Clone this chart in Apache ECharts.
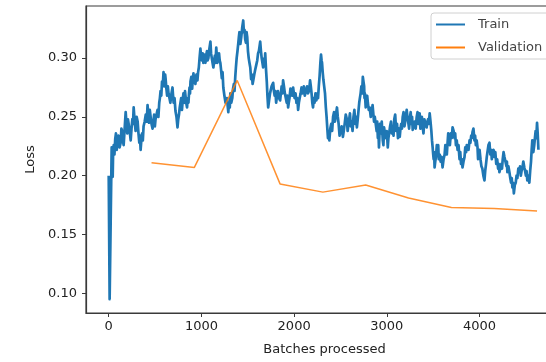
<!DOCTYPE html>
<html>
<head>
<meta charset="utf-8">
<script src="https://cdn.jsdelivr.net/npm/echarts@6/dist/echarts.min.js"></script>
<style>
html,body{margin:0;padding:0;background:#fff;overflow:hidden;width:546px;height:362px;}
#c{width:570px;height:362px;}
</style>
</head>
<body>
<div id="c"></div>
<script>
const xTicks = [0, 1000, 2000, 3000, 4000];
const yTicks = [0.10, 0.15, 0.20, 0.25, 0.30];
const seriesNames = ['Train', 'Validation'];

const trainPoints = [
[0,0.200],[10,0.095],[21,0.160],[32,0.224],[38,0.212],[43,0.199],[48,0.222],[54,0.226],[62,0.218],[70,0.231],[78,0.236],[86,0.222],[95,0.230],[105,0.234],[117,0.224],[129,0.228],[137,0.240],[145,0.238],[153,0.230],[161,0.226],[172,0.240],[183,0.254],[192,0.244],[200,0.236],[207,0.248],[215,0.244],[226,0.238],[237,0.230],[246,0.240],[255,0.248],[262,0.244],[269,0.258],[280,0.246],[290,0.238],[301,0.250],[312,0.246],[321,0.236],[330,0.228],[337,0.234],[344,0.222],[352,0.230],[360,0.236],[368,0.230],[376,0.242],[388,0.246],[400,0.252],[410,0.246],[419,0.260],[427,0.252],[435,0.245],[443,0.256],[452,0.250],[462,0.244],[473,0.240],[482,0.246],[490,0.252],[498,0.242],[505,0.248],[516,0.252],[527,0.256],[536,0.250],[545,0.262],[552,0.266],[559,0.272],[567,0.268],[575,0.280],[583,0.276],[591,0.288],[598,0.282],[605,0.276],[609,0.286],[613,0.283],[622,0.274],[630,0.268],[638,0.276],[645,0.270],[655,0.266],[665,0.262],[677,0.270],[688,0.275],[694,0.268],[700,0.262],[710,0.266],[720,0.255],[731,0.250],[742,0.241],[750,0.248],[758,0.252],[766,0.258],[774,0.262],[782,0.266],[790,0.256],[798,0.264],[806,0.270],[812,0.264],[818,0.262],[823,0.272],[828,0.268],[836,0.262],[845,0.258],[852,0.266],[860,0.262],[866,0.270],[872,0.275],[877,0.270],[882,0.280],[891,0.284],[900,0.274],[907,0.282],[914,0.287],[924,0.280],[935,0.278],[946,0.286],[957,0.281],[964,0.288],[972,0.292],[980,0.300],[989,0.308],[997,0.300],[1005,0.298],[1013,0.304],[1021,0.296],[1028,0.300],[1035,0.303],[1039,0.298],[1043,0.296],[1051,0.302],[1060,0.306],[1067,0.298],[1075,0.300],[1086,0.308],[1097,0.314],[1104,0.304],[1112,0.300],[1120,0.296],[1129,0.292],[1137,0.298],[1145,0.302],[1152,0.296],[1160,0.309],[1166,0.302],[1172,0.296],[1181,0.300],[1190,0.304],[1197,0.298],[1204,0.296],[1212,0.290],[1220,0.283],[1228,0.288],[1236,0.275],[1248,0.268],[1260,0.262],[1275,0.266],[1290,0.254],[1295,0.260],[1300,0.262],[1306,0.258],[1312,0.270],[1322,0.262],[1333,0.266],[1341,0.274],[1350,0.278],[1357,0.272],[1365,0.284],[1372,0.292],[1380,0.300],[1389,0.306],[1398,0.313],[1404,0.318],[1410,0.322],[1420,0.312],[1430,0.318],[1440,0.326],[1451,0.332],[1458,0.322],[1465,0.324],[1472,0.316],[1480,0.313],[1487,0.322],[1494,0.318],[1502,0.306],[1510,0.300],[1518,0.296],[1527,0.292],[1536,0.282],[1545,0.286],[1552,0.278],[1559,0.281],[1570,0.286],[1580,0.290],[1591,0.294],[1602,0.298],[1611,0.304],[1620,0.306],[1627,0.310],[1634,0.314],[1642,0.306],[1650,0.300],[1658,0.296],[1666,0.292],[1673,0.298],[1680,0.300],[1684,0.296],[1688,0.304],[1697,0.290],[1705,0.280],[1712,0.268],[1720,0.258],[1730,0.264],[1740,0.270],[1757,0.276],[1774,0.279],[1782,0.272],[1790,0.268],[1798,0.272],[1806,0.262],[1815,0.268],[1825,0.272],[1837,0.266],[1849,0.264],[1857,0.270],[1865,0.276],[1873,0.270],[1881,0.281],[1890,0.276],[1900,0.270],[1910,0.266],[1920,0.262],[1928,0.268],[1935,0.258],[1942,0.262],[1950,0.266],[1960,0.274],[1970,0.270],[1980,0.268],[1989,0.275],[1997,0.270],[2005,0.266],[2015,0.270],[2025,0.262],[2034,0.266],[2043,0.256],[2051,0.262],[2060,0.266],[2070,0.270],[2080,0.275],[2088,0.270],[2096,0.272],[2105,0.276],[2115,0.268],[2128,0.272],[2140,0.276],[2150,0.270],[2160,0.272],[2166,0.276],[2172,0.281],[2180,0.276],[2188,0.270],[2196,0.262],[2204,0.258],[2212,0.266],[2220,0.262],[2230,0.270],[2240,0.264],[2249,0.270],[2258,0.266],[2266,0.276],[2275,0.285],[2283,0.296],[2290,0.303],[2296,0.298],[2301,0.296],[2308,0.288],[2315,0.282],[2324,0.276],[2333,0.270],[2342,0.258],[2350,0.250],[2358,0.240],[2365,0.232],[2372,0.238],[2380,0.230],[2390,0.240],[2400,0.244],[2410,0.238],[2420,0.250],[2430,0.254],[2440,0.246],[2451,0.252],[2462,0.258],[2471,0.250],[2480,0.244],[2490,0.234],[2500,0.238],[2513,0.242],[2526,0.233],[2535,0.238],[2545,0.244],[2557,0.252],[2569,0.248],[2577,0.238],[2585,0.243],[2594,0.248],[2602,0.253],[2611,0.242],[2620,0.246],[2630,0.238],[2640,0.250],[2650,0.256],[2660,0.244],[2668,0.250],[2677,0.241],[2686,0.248],[2695,0.256],[2702,0.262],[2709,0.266],[2717,0.270],[2725,0.276],[2733,0.270],[2741,0.284],[2748,0.280],[2755,0.276],[2759,0.266],[2763,0.270],[2772,0.258],[2780,0.264],[2788,0.268],[2795,0.262],[2805,0.256],[2815,0.258],[2826,0.250],[2838,0.254],[2846,0.260],[2855,0.252],[2862,0.246],[2870,0.250],[2880,0.244],[2890,0.238],[2896,0.246],[2903,0.232],[2909,0.238],[2915,0.224],[2925,0.244],[2935,0.236],[2945,0.246],[2956,0.230],[2963,0.226],[2970,0.241],[2980,0.236],[2990,0.232],[3000,0.238],[3010,0.224],[3017,0.232],[3025,0.236],[3035,0.242],[3045,0.246],[3054,0.236],[3064,0.241],[3072,0.234],[3080,0.248],[3090,0.252],[3100,0.238],[3110,0.244],[3120,0.232],[3130,0.240],[3139,0.233],[3147,0.240],[3155,0.244],[3163,0.240],[3171,0.250],[3180,0.254],[3190,0.242],[3202,0.248],[3214,0.256],[3222,0.250],[3230,0.246],[3240,0.240],[3250,0.250],[3257,0.254],[3265,0.244],[3272,0.250],[3279,0.239],[3290,0.244],[3300,0.246],[3311,0.240],[3322,0.250],[3331,0.254],[3340,0.244],[3347,0.248],[3354,0.253],[3362,0.240],[3370,0.246],[3378,0.250],[3386,0.242],[3395,0.236],[3405,0.248],[3417,0.244],[3429,0.241],[3437,0.246],[3445,0.248],[3453,0.244],[3462,0.253],[3471,0.246],[3480,0.238],[3487,0.230],[3494,0.224],[3500,0.218],[3505,0.214],[3510,0.220],[3515,0.207],[3522,0.212],[3530,0.216],[3539,0.226],[3548,0.222],[3554,0.226],[3560,0.214],[3570,0.218],[3580,0.212],[3590,0.216],[3601,0.207],[3612,0.214],[3623,0.218],[3631,0.226],[3640,0.224],[3647,0.218],[3655,0.228],[3662,0.236],[3670,0.232],[3680,0.226],[3690,0.236],[3700,0.232],[3709,0.241],[3720,0.238],[3730,0.232],[3737,0.236],[3745,0.226],[3754,0.230],[3763,0.222],[3773,0.226],[3784,0.214],[3792,0.220],[3800,0.210],[3808,0.214],[3816,0.207],[3827,0.212],[3838,0.216],[3846,0.224],[3855,0.220],[3862,0.226],[3870,0.224],[3881,0.222],[3892,0.230],[3901,0.228],[3910,0.234],[3917,0.232],[3924,0.237],[3934,0.240],[3945,0.230],[3952,0.234],[3960,0.226],[3969,0.230],[3978,0.224],[3984,0.214],[3990,0.218],[4000,0.222],[4010,0.214],[4020,0.208],[4030,0.206],[4041,0.200],[4053,0.196],[4061,0.204],[4070,0.210],[4078,0.216],[4085,0.220],[4096,0.226],[4107,0.228],[4116,0.218],[4125,0.222],[4132,0.214],[4139,0.218],[4150,0.222],[4160,0.216],[4170,0.220],[4180,0.210],[4190,0.214],[4200,0.206],[4207,0.210],[4214,0.203],[4224,0.206],[4235,0.210],[4242,0.206],[4250,0.214],[4259,0.220],[4268,0.216],[4279,0.212],[4290,0.208],[4295,0.212],[4300,0.203],[4311,0.208],[4322,0.203],[4331,0.198],[4340,0.194],[4347,0.198],[4354,0.190],[4362,0.194],[4370,0.185],[4380,0.192],[4390,0.194],[4399,0.200],[4408,0.198],[4418,0.206],[4429,0.203],[4437,0.208],[4445,0.200],[4453,0.204],[4461,0.206],[4472,0.212],[4483,0.207],[4491,0.204],[4500,0.200],[4507,0.204],[4515,0.196],[4526,0.200],[4537,0.194],[4546,0.204],[4555,0.212],[4562,0.222],[4569,0.230],[4580,0.220],[4590,0.226],[4597,0.232],[4605,0.238],[4612,0.232],[4620,0.245],[4627,0.236],[4635,0.222]
];

const valBatches = [462, 924, 1386, 1848, 2310, 2772, 3234, 3696, 4158, 4620];
const valLoss = [0.211, 0.207, 0.281, 0.193, 0.186, 0.192, 0.181, 0.173, 0.172, 0.170];

const chart = echarts.init(document.getElementById('c'), null, {renderer: 'canvas'});
const font = '"DejaVu Sans", sans-serif';
const axisColor = '#3a3a3a';

chart.setOption({
  animation: false,
  backgroundColor: '#fff',
  grid: {
    left: 86, top: 6, width: 477, height: 307,
    show: true, borderColor: axisColor, borderWidth: 1.2, backgroundColor: '#fff'
  },
  legend: {
    orient: 'vertical',
    left: 431, top: 13,
    padding: [5, 14, 5, 5],
    itemWidth: 29, itemHeight: 2, itemGap: 10,
    icon: 'rect',
    borderColor: '#d0d0d0', borderWidth: 1, borderRadius: 3,
    backgroundColor: 'rgba(255,255,255,0.8)',
    textStyle: {fontFamily: font, fontSize: 13, color: '#444', padding: [0, 0, 0, 8]},
    data: seriesNames
  },
  xAxis: {
    type: 'value', min: -245, max: 4900,
    name: 'Batches processed', nameLocation: 'middle', nameGap: 30,
    nameTextStyle: {fontFamily: font, fontSize: 13, color: '#222'},
    splitLine: {show: false},
    axisLine: {show: true, onZero: false, lineStyle: {color: axisColor, width: 1.2}},
    axisTick: {show: true, length: 4, customValues: xTicks, lineStyle: {color: axisColor, width: 1}},
    axisLabel: {customValues: xTicks, margin: 7, fontFamily: font, fontSize: 13, color: '#222',
      formatter: v => String(Math.round(v))}
  },
  yAxis: {
    type: 'value', min: 0.0832, max: 0.3443,
    name: 'Loss', nameLocation: 'middle', nameGap: 47, nameRotate: 90,
    nameTextStyle: {fontFamily: font, fontSize: 13, color: '#222'},
    splitLine: {show: false},
    axisLine: {show: true, onZero: false, lineStyle: {color: axisColor, width: 1.2}},
    axisTick: {show: true, length: 4, customValues: yTicks, lineStyle: {color: axisColor, width: 1}},
    axisLabel: {customValues: yTicks, margin: 9, fontFamily: font, fontSize: 13, color: '#222',
      formatter: v => v.toFixed(2)}
  },
  series: [
    {
      name: seriesNames[0], type: 'line', showSymbol: false, symbol: 'none',
      data: trainPoints,
      lineStyle: {color: '#1f77b4', width: 2.7, join: 'round'},
      itemStyle: {color: '#1f77b4'}
    },
    {
      name: seriesNames[1], type: 'line', showSymbol: false, symbol: 'none',
      data: valBatches.map((b, i) => [b, valLoss[i]]),
      lineStyle: {color: '#ff7f0e', width: 1.5, opacity: 0.85},
      itemStyle: {color: '#ff7f0e'}
    }
  ]
});
</script>
</body>
</html>
